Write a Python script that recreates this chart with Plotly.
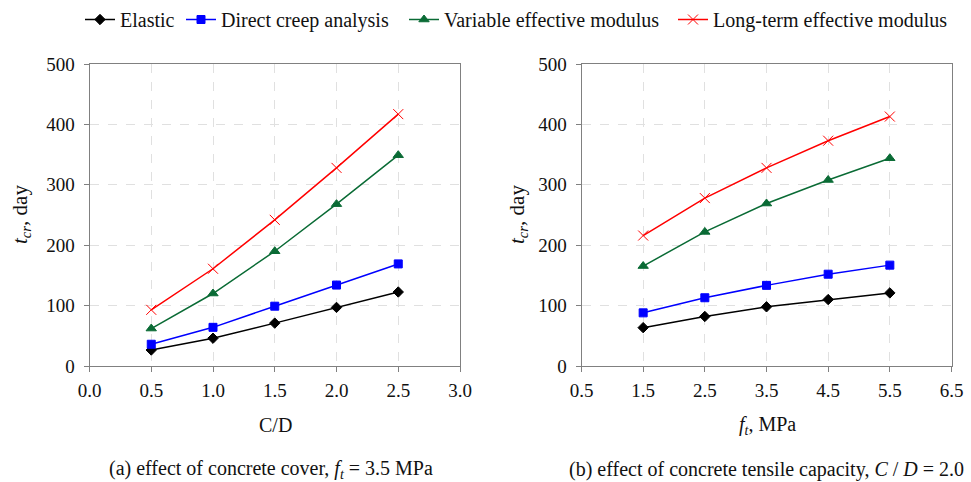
import plotly.graph_objects as go

# C/D sweep (f_t = 3.5 MPa)
cd = [0.5, 1.0, 1.5, 2.0, 2.5]
cd_elastic = [26.5, 46, 71, 97, 122.5]
cd_direct = [36, 64, 99, 134, 169]
cd_variable = [62, 120, 190, 268, 349]
cd_longterm = [93, 161, 242, 328, 417]

# f_t sweep (C/D = 2.0)
ft = [1.5, 2.5, 3.5, 4.5, 5.5]
ft_elastic = [63.5, 82, 98, 110, 121]
ft_direct = [88, 113, 133.5, 152, 167]
ft_variable = [165.5, 222, 269, 308, 344]
ft_longterm = [216, 278, 328, 373, 413]

names = ["Elastic", "Direct creep analysis", "Variable effective modulus",
         "Long-term effective modulus"]
colors = ["#000000", "#0000ff", "#0a6b35", "#ff0000"]
symbols = ["diamond", "square", "triangle-up", "x-thin"]
sizes = [8, 8, 9, 10]

FONT = "Liberation Serif, Times New Roman, serif"
W, H = 971, 482

fig = go.Figure()

left = [cd_elastic, cd_direct, cd_variable, cd_longterm]
right = [ft_elastic, ft_direct, ft_variable, ft_longterm]
legend_ids = ["legend", "legend2", "legend3", "legend4"]

for i in range(4):
    mk = dict(symbol=symbols[i], size=sizes[i], color=colors[i],
              line=dict(color=colors[i], width=1))
    fig.add_trace(go.Scatter(x=cd, y=left[i], mode="lines+markers", name=names[i],
                             line=dict(color=colors[i], width=1.5), marker=mk,
                             xaxis="x", yaxis="y", showlegend=True,
                             legend=legend_ids[i]))
    fig.add_trace(go.Scatter(x=ft, y=right[i], mode="lines+markers", name=names[i],
                             line=dict(color=colors[i], width=1.5), marker=mk,
                             xaxis="x2", yaxis="y2", showlegend=False))

axis_common = dict(showline=True, linecolor="#808080", linewidth=1, mirror=True,
                   showgrid=True, gridcolor="#e0e0e0", griddash="dash", gridwidth=1,
                   ticks="outside", ticklen=5, tickcolor="#808080", automargin=False,
                   tickfont=dict(family=FONT, size=19, color="#111"), zeroline=False)

fig.update_layout(
    width=W, height=H,
    margin=dict(l=0, r=0, t=0, b=0, autoexpand=False),
    paper_bgcolor="white", plot_bgcolor="white",
    font=dict(family=FONT, color="#111"),
    xaxis=dict(domain=[89.5 / W, 460 / W], range=[0, 3], dtick=0.5, tickformat=".1f",
               anchor="y", ticklabelstandoff=2, **axis_common),
    yaxis=dict(domain=[1 - 366 / H, 1 - 64 / H], range=[0, 500], dtick=100, anchor="x",
               ticklabelstandoff=5, **axis_common),
    xaxis2=dict(domain=[581.5 / W, 951.5 / W], range=[0.5, 6.5], dtick=1, tick0=0.5,
                tickformat=".1f", anchor="y2", ticklabelstandoff=2, **axis_common),
    yaxis2=dict(domain=[1 - 366 / H, 1 - 64 / H], range=[0, 500], dtick=100, anchor="x2",
                ticklabelstandoff=5, **axis_common),
)

# one legend box per series, laid out in a row along the top
legend_x = [80, 181, 404, 673]
for lid, lx in zip(legend_ids, legend_x):
    fig.update_layout({lid: dict(
        orientation="h", xref="container", yref="container",
        x=lx / W, y=1.0, xanchor="left", yanchor="top",
        font=dict(family=FONT, size=20, color="#111"),
        itemwidth=30, bgcolor="rgba(0,0,0,0)")})

ann = []
ytitle = "<i>t</i><sub><i>cr</i></sub>, day"
ann.append(dict(x=21, y=215, text=ytitle, textangle=-90, size=21))
ann.append(dict(x=518, y=215, text=ytitle, textangle=-90, size=21))
ann.append(dict(x=275, y=425, text="C/D", size=20))
ann.append(dict(x=767, y=425, text="<i>f</i><sub><i>t</i></sub>, MPa", size=20))
ann.append(dict(x=271, y=469,
                text="(a) effect of concrete cover, <i>f</i><sub><i>t</i></sub> = 3.5 MPa",
                size=20))
ann.append(dict(x=766, y=469,
                text="(b) effect of concrete tensile capacity, <i>C</i> / <i>D</i> = 2.0",
                size=20))

annotations = []
for a in ann:
    annotations.append(dict(
        x=a["x"] / W, y=1 - a["y"] / H, xref="paper", yref="paper",
        text=a["text"], textangle=a.get("textangle", 0), showarrow=False,
        xanchor="center", yanchor="middle",
        font=dict(family=FONT, size=a["size"], color="#111")))
fig.update_layout(annotations=annotations)

fig.write_html("out.html")
